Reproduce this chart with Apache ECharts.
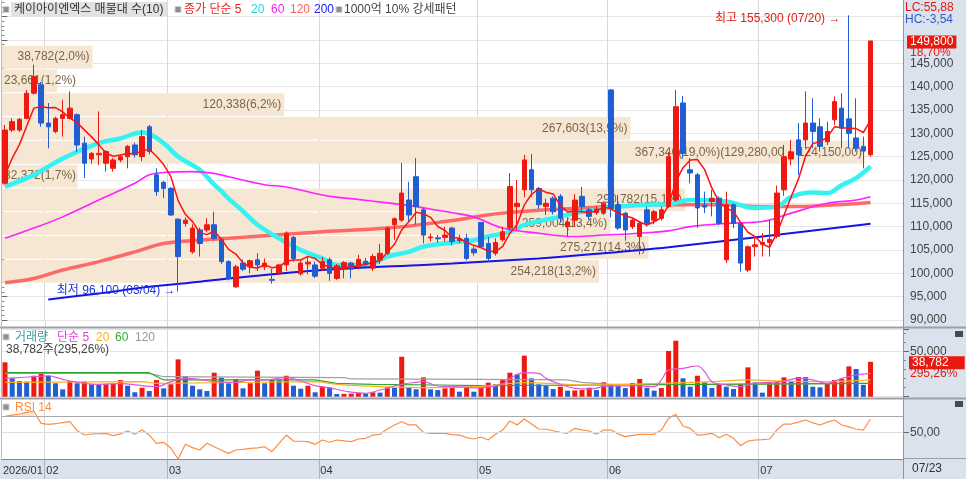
<!DOCTYPE html>
<html><head><meta charset="utf-8">
<script src="https://cdn.jsdelivr.net/npm/echarts@6/dist/echarts.min.js"></script>
<style>html,body{margin:0;padding:0;background:#fff}#c{width:966px;height:479px}</style>
</head><body><div id="c"></div>
<script>
const dates = ['01/23','01/26','01/27','01/28','01/29','01/30',
'02/02','02/03','02/04','02/05','02/06','02/09','02/10','02/11','02/12','02/13','02/19','02/20','02/23','02/24','02/25','02/26','02/27',
'03/03','03/04','03/05','03/06','03/09','03/10','03/11','03/12','03/13','03/16','03/17','03/18','03/19','03/20','03/23','03/24','03/25','03/26','03/27','03/30','03/31',
'04/01','04/02','04/03','04/06','04/07','04/08','04/09','04/10','04/13','04/14','04/15','04/16','04/17','04/20','04/21','04/22','04/23','04/24','04/27','04/28','04/29','04/30',
'05/04','05/06','05/07','05/08','05/11','05/12','05/13','05/14','05/15','05/18','05/19','05/20','05/21','05/22','05/26','05/27','05/28','05/29',
'06/01','06/02','06/04','06/05','06/08','06/09','06/10','06/11','06/12','06/15','06/16','06/17','06/18','06/19','06/22','06/23','06/24','06/25','06/26','06/29','06/30',
'07/01','07/02','07/03','07/06','07/07','07/08','07/09','07/10','07/13','07/14','07/15','07/16','07/20','07/21','07/22','07/23'];
const startYear = '2026';

const opens = [119300,130700,130700,133200,138600,140400,132200,130400,133200,133200,
 134000,127900,124500,125400,123600,122500,124300,125000,127500,125000,
 131400,121100,119500,118200,111600,110700,104600,109300,109300,110400,
 107200,102500,97100,102200,101400,102900,101400,98700,100100,101800,
 107700,99900,102000,101800,101100,102900,98900,100900,102200,101600,
 102600,101100,102900,104300,110400,111400,115700,120700,113600,107600,
 107600,107700,109700,107000,107500,105200,110900,106400,104300,107200,
 109700,114300,117900,122200,118200,114300,116100,116500,110000,111400,
 116500,113600,113000,112900,139300,114700,112900,110000,107900,113600,
 111400,111800,114300,115700,136500,122200,121100,114600,115400,116100,
 102900,114700,110700,100700,105700,106200,106600,107900,117900,124500,
 128600,128600,132200,131400,128200,132900,135400,133100,129000,127200,
 125400];
const closes = [130700,132500,133000,138600,142200,132200,131400,133200,134000,135400,
 127500,123600,125700,125700,126100,124300,125000,127200,125400,129300,
 126100,117500,118200,112500,103600,111400,109700,106400,110400,107500,
 102500,98900,101400,100900,102700,101800,102200,98500,101800,108600,
 103200,102200,102400,99400,102500,100000,101600,102300,100900,103000,
 101900,103600,104300,109700,111700,117200,112500,114300,108200,107800,
 107400,108200,106800,107400,103200,104400,105700,103200,106600,108900,
 118600,115000,124300,117900,114700,115000,113200,111800,111000,115700,
 114300,112200,113800,115000,113900,109700,109300,111400,110700,110700,
 113200,113600,125000,135700,125700,121500,114000,114200,116100,110700,
 114700,110700,102200,105700,106100,106600,107300,117200,125000,126000,
 125400,132200,130400,127200,130400,136800,131100,130000,126800,126200,
 149800];
const lows = [119000,130300,130300,133000,138300,131400,126800,130000,129300,133000,
 126000,120400,123500,123200,121800,121800,123800,122500,124800,124000,
 125500,116600,116100,112300,96100,110000,104200,103600,108800,107000,
 102000,98500,96900,100500,100000,100500,100700,97800,99700,100500,
 102500,99500,99800,99000,100500,98400,98600,98900,98900,100800,
 101300,100500,102000,103900,107200,111000,111000,110400,106400,106800,
 106600,106800,106000,106500,102800,103800,105500,102500,103800,106800,
 109200,109300,116300,116400,113800,112500,112600,110900,107900,110000,
 113000,111500,112500,112500,112000,109300,107000,109500,104000,110000,
 110500,111300,114000,115300,124600,119300,109700,112900,112200,110300,
 102200,109700,100400,100300,103600,103600,103600,107500,116600,123200,
 121100,126800,126800,126100,127500,131800,126800,126800,126100,122500,
 125000];
const highs = [131800,133200,133300,139300,144700,141000,136500,133600,137200,139000,
 134300,129300,126000,134700,126400,124700,125400,127500,128000,130700,
 131800,122500,119800,118500,111800,112000,110500,109800,111800,113200,
 107500,102800,101800,103000,103000,104300,103200,101000,102000,109000,
 108000,102700,103500,102500,103500,103400,102000,102600,102500,104000,
 103300,104200,106300,110000,112000,123700,119600,124700,114000,108500,
 108200,110000,110000,108300,108500,105800,111000,107800,107500,110000,
 121500,120000,125400,125600,118500,116000,116500,117000,112000,117000,
 118500,114000,114500,115400,139500,116800,113200,111800,111000,114300,
 113600,114300,126000,139300,138000,124700,121500,117500,117900,116500,
 117500,115000,111000,106000,107900,108600,111400,118800,127500,128600,
 132200,139000,137500,133200,132500,137900,138600,155300,137500,129300,
 149800];
const priorCloses = [114600,118450,119000,122700];

const volumes = [38200,20400,17400,16700,23300,26000,23300,14900,8200,17400,
 14900,16700,13800,13500,13900,14200,18500,12200,4900,10000,
 6300,18500,9300,13800,41500,23000,12200,8200,6300,26700,
 21100,14900,19700,9300,14900,28900,14900,18800,18400,23300,
 12200,8900,12200,4900,11100,10000,3000,3200,3400,4500,
 3000,4900,4500,10400,10000,44400,10400,8200,21500,8200,
 7400,9300,11800,5600,10000,5600,10000,15600,13800,18500,
 26700,24900,45600,20400,13800,12200,8500,11100,6700,6900,
 7400,10000,7400,16000,14100,12200,9600,15200,19700,10000,
 6700,9600,50800,62200,20400,11100,23300,16000,9600,13800,
 11100,8500,13800,32600,15900,4500,15900,16100,21500,17100,
 21900,21700,11100,10400,15200,18500,19700,33700,30800,13135,
 38782];

// moving averages as [day index, value]
const ma20Pts = [[0,118600],[4,121100],[8,124600],[13,127900],[16,128900],[19,130200],[20,129900],[22,127900],[24,125000],[27,122200],[29,119000],[30,117600],[31,116000],[33,113300],[35,110400],[38,107500],[41,105000],[44,103200],[46,101800],[49,101800],[51,102100],[53,103600],[56,104600],[58,105700],[62,106600],[65,107100],[67,107900],[70,108900],[72,110400],[76,111800],[79,112900],[82,113600],[85,114300],[89,114700],[92,114800],[95,115700],[100,115400],[104,114000],[107,114300],[109,116400],[112,117300],[114,117200],[116,118900],[118,120400],[120,122900]];
const ma60Pts = [[0,107500],[4,109700],[8,112100],[13,115700],[18,119300],[20,121100],[22,121600],[26,121800],[29,121400],[31,120700],[36,119000],[39,118500],[45,116500],[48,116000],[53,115100],[57,114300],[60,113500],[62,113000],[65,112100],[69,109700],[74,108600],[79,107900],[83,108200],[88,108600],[92,109100],[95,110000],[100,110700],[105,111100],[109,112900],[114,115000],[118,115700],[120,116400]];
const ma120Pts = [[0,98000],[4,98900],[8,100700],[13,102500],[18,104600],[22,106400],[27,107100],[31,107500],[44,108900],[53,109700],[61,111100],[69,112900],[79,113900],[92,114700],[100,114700],[105,114300],[109,114300],[114,114600],[120,115200]];
const ma200Pts = [[6,94400],[13,95700],[20,97100],[27,98200],[31,98900],[44,100700],[58,101800],[62,102100],[74,103200],[83,104300],[92,105600],[105,107900],[120,110600]];

const vma5Pts = [[0,20400],[4,22200],[6,23300],[8,19300],[11,14900],[13,13800],[16,14500],[19,12300],[21,11200],[23,16700],[25,20400],[27,19300],[29,16700],[32,16000],[34,18600],[36,18600],[39,21100],[41,17400],[43,12300],[45,10000],[47,6300],[50,3700],[52,7400],[55,13800],[57,16000],[58,16700],[60,11900],[63,11000],[66,9800],[69,13800],[70,20400],[72,26700],[74,26000],[75,20400],[77,13800],[79,9300],[81,8500],[83,11200],[85,11900],[88,11900],[90,11200],[91,18600],[92,29600],[94,31500],[96,34100],[97,27800],[98,16700],[100,13000],[102,11200],[104,14900],[106,16000],[108,17400],[110,20400],[112,18600],[114,14900],[116,20400],[118,24100],[120,26000]];
const vma20Pts = [[0,16000],[19,16700],[21,14900],[43,16700],[46,13800],[52,11200],[59,10000],[66,11500],[72,15600],[81,13000],[98,16700],[103,18600],[108,17400],[114,16700],[120,18600]];
const vma60Pts = [[0,26700],[20,26700],[22,18600],[43,18600],[46,14900],[51,13800],[60,13000],[66,12300],[84,13000],[120,14900]];
const vma120Pts = [[0,26000],[20,26000],[22,22200],[47,21100],[48,19700],[66,19300],[78,18600],[80,16000],[84,13800],[97,13800],[120,14900]];

const rsiPts = [[0,70.5],[1,72],[2,73.5],[3,75.5],[4,77],[5,61.5],[6,60.2],[7,61],[8,62.3],[9,63.6],[10,52],[11,46.5],[12,47.8],[13,48.2],[14,48.7],[15,45.7],[16,48],[17,51.7],[18,47.4],[19,52.9],[20,46.5],[21,35.9],[22,37.2],[23,29.5],[24,15.8],[25,34.6],[26,30.3],[27,27.3],[28,35.9],[29,31.5],[30,27],[31,23],[32,27.3],[33,28],[34,29.5],[35,30],[36,31.5],[37,25.1],[38,35.9],[39,46.5],[40,38.8],[41,38.5],[42,38],[43,34.6],[44,40.1],[45,37.2],[46,40.1],[47,39],[48,38],[49,41.4],[50,42.3],[51,46.5],[52,47.4],[53,54.2],[54,59.4],[55,63.6],[56,59.4],[57,59.4],[58,50],[59,48.7],[60,48.7],[61,48.7],[62,47],[63,46.5],[64,43.1],[65,41.4],[66,44],[67,40.1],[68,47.4],[69,52.9],[70,64.5],[71,59.4],[72,67.1],[73,60.7],[74,54.2],[75,53.9],[76,52],[77,50],[78,48.7],[79,55.1],[80,53],[81,51.7],[82,47.4],[83,52.9],[84,52.9],[85,48],[86,44.4],[87,46],[88,47.4],[89,47.4],[90,47.4],[91,52.9],[92,67.9],[93,73],[94,58.1],[95,55],[96,46.5],[97,47],[98,48.7],[99,43.1],[100,47.4],[101,42.3],[102,32.8],[103,38.8],[104,40.1],[105,40.5],[106,41.4],[107,52.9],[108,60.6],[109,60.6],[110,63],[111,65.8],[112,62],[113,59.4],[114,63],[115,65.8],[116,59.4],[117,57],[118,54.2],[119,52.9],[120,67.1]];

// volume profile (매물대), bottom to top
const profileEdges = [97900,103000,108100,113200,118300,123400,128500,133600,138700,143800,148900];
const profileVol = [254218,275271,259004,290782,32372,367346,267603,120338,23661,38782];
const profilePct = [13.2,14.3,13.4,15.1,1.7,19.0,13.9,6.2,1.2,2.0];
const maxBandRange = [129280,124150];

const F = '"Liberation Sans","Noto Sans CJK KR",sans-serif';
const RED = '#ee1a12', BLUE = '#1f5fd2';
const fmt = v => Math.round(v).toLocaleString('en-US');
const dec = (v, d) => v.toFixed(d).replace('.', ',');

const PAD = 4;
const cats = dates.concat(Array.from({length: PAD}, (_, k) => 'pad' + k));
const monthOf = i => dates[i].slice(0, 2);
const isMonthStart = i => i > 0 && i < dates.length && monthOf(i) !== monthOf(i - 1);
const xLabel = i => i === 0 ? startYear + '/' + monthOf(0) : (isMonthStart(i) ? monthOf(i) : '');

const allC = priorCloses.concat(closes);
const ma5 = closes.map((c, i) => { let s = 0; for (let k = 0; k < 5; k++) s += allC[i + 4 - k]; return Math.round(s / 5); });
const candles = dates.map((d, i) => [opens[i], closes[i], lows[i], highs[i]]);
const last = dates.length - 1;
const hiVal = Math.max(...highs), hiIdx = highs.indexOf(hiVal);
const loVal = Math.min(...lows), loIdx = lows.indexOf(loVal);
const maxIdx = profileVol.indexOf(Math.max(...profileVol));
const profileData = profileVol.map((v, i) => [v, profileEdges[i], profileEdges[i + 1], i]);

const gridL = 1.4, gridR = 63;
const splitX = {show: true, interval: (i) => isMonthStart(i), lineStyle: {color: '#d9d9d9'}};
function catAxis(g, extra) {
  return Object.assign({type: 'category', gridIndex: g, data: cats, boundaryGap: true,
    axisLine: {show: false}, axisTick: {show: false}, axisLabel: {show: false}, splitLine: splitX}, extra || {});
}
function maLine(name, pts, color, width, z, smooth, x, y) {
  return {type: 'line', name: name, xAxisIndex: x || 0, yAxisIndex: y || 0, data: pts, showSymbol: false, smooth: smooth,
    lineStyle: {color: color, width: width}, itemStyle: {color: color}, z: z, silent: true};
}

const chart = echarts.init(document.getElementById('c'));
const option = {
  animation: false,
  backgroundColor: '#ffffff',
  grid: [
    {left: gridL, right: gridR, top: -6.667, height: 326.667, containLabel: false, outerBoundsMode: 'none'},
    {left: gridL, right: gridR, top: 329.2, height: 67.5, containLabel: false, outerBoundsMode: 'none'},
    {left: gridL, right: gridR, top: 397.2, height: 62.4, containLabel: false, outerBoundsMode: 'none'}
  ],
  xAxis: [
    catAxis(0), catAxis(1),
    catAxis(2, {axisLine: {show: true, lineStyle: {color: '#8a8a8a'}},
      axisTick: {show: true, interval: (i) => isMonthStart(i), length: 21, lineStyle: {color: '#aab3bf'}},
      axisLabel: {show: true, interval: 0, align: 'left', margin: 6, color: '#333', fontSize: 11, fontFamily: F, padding: [0, 0, 0, -2],
        formatter: (v, i) => (i < dates.length ? xLabel(i) : '')}}),
    {type: 'value', gridIndex: 0, min: 0, max: 383530, show: false}
  ],
  yAxis: [
    {type: 'value', gridIndex: 0, position: 'right', min: 90000, max: 160000, interval: 5000,
      axisLine: {show: true, lineStyle: {color: '#8c96a3'}},
      axisTick: {show: true, length: 6, lineStyle: {color: '#666'}},
      minorTick: {show: true, splitNumber: 5, length: 3, lineStyle: {color: '#888'}},
      axisLabel: {formatter: v => (v <= 145000 ? fmt(v) : ''), color: '#444', fontSize: 12, fontFamily: F, margin: 7},
      splitLine: {show: true, lineStyle: {color: '#e6e6e6'}}},
    {type: 'value', gridIndex: 1, position: 'right', min: 0, max: 75000, interval: 50000,
      axisLine: {show: true, lineStyle: {color: '#8c96a3'}},
      axisTick: {show: true, length: 6, lineStyle: {color: '#666'}},
      minorTick: {show: true, splitNumber: 5, length: 3, lineStyle: {color: '#888'}},
      axisLabel: {formatter: v => (v === 50000 ? fmt(v) : ''), color: '#444', fontSize: 12, fontFamily: F, margin: 7},
      splitLine: {show: true, lineStyle: {color: '#e3e3e3'}}},
    {type: 'value', gridIndex: 2, position: 'right', min: 15, max: 95, interval: 5,
      axisLine: {show: true, lineStyle: {color: '#8c96a3'}},
      axisTick: {show: true, length: 6, customValues: [50], lineStyle: {color: '#666'}},
      axisLabel: {customValues: [50], formatter: v => (v === 50 ? dec(50, 2) : ''), color: '#444', fontSize: 12, fontFamily: F, margin: 7},
      splitLine: {show: false}}
  ],
  series: [
    {type: 'custom', name: 'profile', xAxisIndex: 3, yAxisIndex: 0, z: 1, silent: true,
      encode: {x: 0, y: [1, 2]}, data: profileData,
      renderItem: function (params, api) {
        const vol = api.value(0), lo = api.value(1), hi = api.value(2), idx = api.value(3);
        const p0 = api.coord([0, hi]), p1 = api.coord([vol, lo]);
        let s = fmt(vol) + '(' + dec(profilePct[idx], 1) + '%)';
        if (idx === maxIdx) s += '(' + fmt(maxBandRange[0]) + ',00 ~ ' + fmt(maxBandRange[1]) + ',00)';
        const est = s.length * 6.6;
        let tx = p1[0] - 3, al = 'right';
        if (tx - est < 4) { tx = 4; al = 'left'; }
        return {type: 'group', children: [
          {type: 'rect', shape: {x: p0[0], y: p0[1] + 0.5, width: p1[0] - p0[0], height: p1[1] - p0[1] - 1}, style: {fill: '#f6e7d4'}},
          {type: 'text', style: {text: s, x: tx, y: (p0[1] + p1[1]) / 2, align: al, textAlign: al, verticalAlign: 'middle', textVerticalAlign: 'middle',
            fill: '#7a6546', font: '12px ' + F}}
        ]};
      }},
    maLine('MA120', ma120Pts, 'rgba(255,90,90,0.9)', 3.5, 2, 0.4),
    maLine('MA20', ma20Pts, '#35f2f2', 4.5, 2, 0.4),
    maLine('MA60', ma60Pts, '#ff22ff', 1.6, 2, 0.4),
    maLine('MA200', ma200Pts, '#1414e6', 2, 2, 0.3),
    {type: 'candlestick', name: 'price', xAxisIndex: 0, yAxisIndex: 0, data: candles, barWidth: 5, z: 3,
      itemStyle: {color: RED, color0: BLUE, borderColor: RED, borderColor0: BLUE, borderWidth: 1},
      markPoint: {symbol: 'circle', symbolSize: 1, itemStyle: {color: 'rgba(0,0,0,0)'}, silent: true,
        data: [
          {coord: [hiIdx, hiVal], label: {show: true, position: 'left', distance: 8, offset: [0, 3], color: '#e8190f', fontSize: 12, fontFamily: F,
            formatter: '최고 ' + fmt(hiVal) + ' (' + dates[hiIdx] + ') →'}},
          {coord: [loIdx, loVal], label: {show: true, position: 'left', distance: 2, offset: [0, -1], color: '#1a36d8', fontSize: 12, fontFamily: F,
            formatter: '최저 ' + fmt(loVal) + ' (' + dates[loIdx] + ') →'}}
        ]}},
    maLine('MA5', ma5.map((v, i) => [i, v]), '#ff1010', 1.5, 4, false),
    {type: 'bar', name: 'volume', xAxisIndex: 1, yAxisIndex: 1, data: volumes, barWidth: 5, z: 2, silent: true,
      itemStyle: {color: p => (p.dataIndex === 0 || volumes[p.dataIndex] > volumes[p.dataIndex - 1] ? RED : BLUE)}},
    maLine('VMA120', vma120Pts, '#a0a0a0', 1.2, 3, false, 1, 1),
    maLine('VMA60', vma60Pts, '#2ea62e', 1.2, 3, false, 1, 1),
    maLine('VMA20', vma20Pts, '#ffb020', 1.2, 3, 0.3, 1, 1),
    maLine('VMA5', vma5Pts, '#e055e0', 1.2, 4, 0.4, 1, 1),
    {type: 'line', name: 'rsiFill', xAxisIndex: 2, yAxisIndex: 2, data: rsiPts.filter(p => p[0] < 10 && p[1] >= 70),
      showSymbol: false, lineStyle: {width: 0}, areaStyle: {origin: 70, color: 'rgba(255,140,60,0.35)'}, z: 2, silent: true},
    {type: 'line', name: 'RSI', xAxisIndex: 2, yAxisIndex: 2, data: rsiPts, showSymbol: false,
      lineStyle: {color: '#ff8c40', width: 1.2}, z: 3, silent: true,
      markLine: {silent: true, symbol: 'none', label: {show: false},
        data: [{yAxis: 70, lineStyle: {color: '#a9a9a9', width: 1, type: 'solid'}},
               {yAxis: 50, lineStyle: {color: '#dddddd', width: 1, type: 'solid'}}]}}
  ]
};
chart.setOption(option);

// decorations / texts
function T(x, y, s, color, extra) {
  return {type: 'text', x: x, y: y, silent: true, z: 100,
    style: Object.assign({text: s, fill: color, font: '12px ' + F, verticalAlign: 'middle', textVerticalAlign: 'middle'}, extra || {})};
}
function R(x, y, w, h, fill, z, stroke) {
  return {type: 'rect', silent: true, z: z, shape: {x: x, y: y, width: w, height: h}, style: {fill: fill, stroke: stroke || null}};
}
function L(x1, y1, x2, y2, color, w, z) {
  return {type: 'line', silent: true, z: z || 90, shape: {x1: x1, y1: y1, x2: x2, y2: y2}, style: {stroke: color, lineWidth: w || 1}};
}
function box(x, y) { return R(x, y, 6, 6, '#8e8e8e', 100, '#d4d4d4'); }

const xc = i => chart.convertToPixel({xAxisIndex: 0}, i);
const half = (xc(1) - xc(0)) / 2;
const yP = v => chart.convertToPixel({yAxisIndex: 0}, v);
const yV = v => chart.convertToPixel({yAxisIndex: 1}, v);

const lc = (closes[last] - loVal) / loVal * 100;
const hc = (closes[last] - hiVal) / hiVal * 100;
const chg = (closes[last] / closes[last - 1] - 1) * 100;
const vchg = volumes[last] / volumes[last - 1] * 100;

const els = [
  R(903, 0, 63, 479, '#d9e2ed', -5),
  R(0, 459, 903, 20, '#d9e2ed', -5),
  L(0, 327.5, 966, 327.5, '#9aa1aa', 2),
  L(0, 398.5, 966, 398.5, '#9aa1aa', 2),
  L(903, 458.5, 966, 458.5, '#9aa1aa', 1),
  L(903.5, 0, 903.5, 479, '#8c96a3', 1),
  L(1.5, 0, 1.5, 458, '#bdbdbd', 1),
  // top legend
  R(11, 2, 156, 15, '#e2e2e2', 99),
  box(3, 6.5),
  T(14, 10, '케이아이엔엑스 매물대 수(' + profileVol.length + ')', '#333'),
  box(175, 6.5),
  T(184, 10, '종가 단순 5', '#ee2222'),
  T(251, 10, '20', '#22d8d8'),
  T(271, 10, '60', '#ee22ee'),
  T(290, 10, '120', '#ff6060'),
  T(314, 10, '200', '#2222ee'),
  box(336, 6.5),
  T(344, 10, '1000억 10% 강세패턴', '#444'),
  // volume legend
  box(3, 334),
  T(15, 337.5, '거래량', '#3a9c9c'),
  T(57, 337.5, '단순 5', '#e040e0'),
  T(96, 337.5, '20', '#ffaa22'),
  T(115, 337.5, '60', '#33aa33'),
  T(135, 337.5, '120', '#999999'),
  T(6, 349.5, fmt(volumes[last]) + '주(' + dec(vchg, 2) + '%)', '#444'),
  // rsi legend
  box(3, 404),
  T(15, 407.5, 'RSI 14', '#ff8c40'),
  // right panel
  T(905, 8, 'LC:' + dec(lc, 2), '#e8190f'),
  T(905, 20, 'HC:' + dec(hc, 2), '#2a5cd0'),
  T(907, yP(closes[last]) + 1, fmt(closes[last]), '#ffffff', {backgroundColor: '#e8190f', padding: [1, 3, 0, 3]}),
  T(910, yP(closes[last]) + 12, dec(chg, 2) + '%', '#e8190f'),
  T(909, yV(volumes[last]) + 1, fmt(volumes[last]), '#ffffff', {backgroundColor: '#e8190f', padding: [1, 16, 0, 3]}),
  T(910, yV(volumes[last]) + 12, dec(vchg, 2) + '%', '#e8190f'),
  T(912, 469, dates[last], '#333'),
  R(955, 331, 8, 6, '#4a4a4a', 100),
  R(955, 401, 8, 6, '#4a4a4a', 100)
];
for (let i = 1; i < dates.length; i++) {
  if (isMonthStart(i)) { const x = Math.round(xc(i) - half) + 0.5; els.push(L(x, 320, x, 327, '#d9d9d9', 1, 1)); }
}
chart.setOption({graphic: {elements: els}});
</script>
</body></html>
